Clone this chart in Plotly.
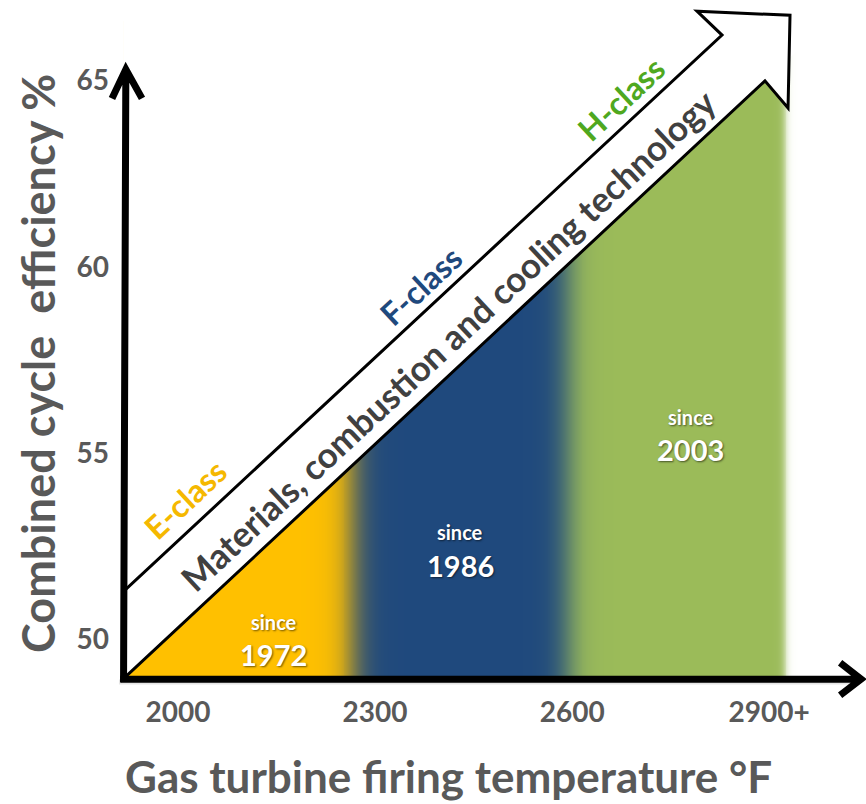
import numpy as np
import plotly.graph_objects as go

# Axis scales: gas turbine firing temperature (°F) and combined cycle efficiency (%)
temp_ticks = [2000, 2300, 2600, 2900]
temp_tick_text = ["2000", "2300", "2600", "2900+"]
eff_ticks = [50, 55, 60, 65]
temp_range = [1728.9, 3047.4]
eff_range = [45.59, 67.16]

# Technology frontier: efficiency reached as firing temperature rises
frontier_temp = [1916.2, 2893.6]
frontier_eff = [48.94, 64.99]

# Turbine classes
class_names = ["E-class", "F-class", "H-class"]
class_since = ["1972", "1986", "2003"]
class_start = [1916.2, 2264.8, 2593.7]
class_end = [2264.8, 2593.7, 2924.1]
class_colors = ["#FFC000", "#1F497D", "#9BBB59"]
class_name_colors = ["#F5B800", "#1F497D", "#4FA81F"]
class_blend = [12.8, 12.5, 3.5]

# Label anchors (temperature, efficiency)
name_temp = [2011.3, 2369.1, 2674.4]
name_eff = [53.78, 59.50, 64.51]
since_temp = [2145.5, 2429.5, 2780.2]
since_eff = [50.47, 52.89, 55.98]
year_eff = [49.61, 52.00, 55.11]

band_text = "Materials, combustion and cooling technology"
band_temp, band_eff = 2410.0, 58.05
band_offset = 2.34  # width of the technology arrow, in efficiency points

FONT = "Lato"
GREY = "#595959"

fig = go.Figure()

# Coloured area under the frontier, softly blended from one class to the next
edges = np.linspace(class_start[0], 2950, 700)
centres = 0.5 * (edges[:-1] + edges[1:])
level = np.zeros_like(centres)
for b, s in zip(class_end, class_blend):
    level += 1.0 / (1.0 + np.exp(-(centres - b) / s))
fig.add_trace(go.Heatmap(
    x=edges, y=[frontier_eff[0], 66.6], z=[level],
    zmin=0, zmax=3,
    colorscale=[[0, class_colors[0]], [1 / 3, class_colors[1]],
                [2 / 3, class_colors[2]], [1, "#FFFFFF"]],
    showscale=False, hoverinfo="skip",
))

slope = (frontier_eff[1] - frontier_eff[0]) / (frontier_temp[1] - frontier_temp[0])
x0, y0 = frontier_temp[0], frontier_eff[0]
x_far = 2960
shapes = []
# white cover above the frontier line
shapes.append(dict(
    type="path", xref="x", yref="y", layer="above",
    path=f"M {x0},{y0} L {x_far},{y0 + slope * (x_far - x0)} L {x_far},67.2 L {x0},67.2 Z",
    fillcolor="white", line=dict(width=0),
))

# technology arrow along the frontier
nx, ny = frontier_temp[1], frontier_eff[1]
ux, uy = 2828.2, 66.22
head = [(2928.7, 64.26), (2931.7, 66.75), (2790.1, 66.86)]
pts = [(x0, y0), (nx, ny)] + head + [(ux, uy), (x0, y0 + band_offset)]
arrow_path = "M " + " L ".join(f"{px},{py}" for px, py in pts) + " Z"
shapes.append(dict(
    type="path", xref="x", yref="y", layer="above", path=arrow_path,
    fillcolor="white", line=dict(color="black", width=3),
))

# axis arrows
shapes.append(dict(
    type="line", xref="x", yref="y", layer="above",
    x0=1910, y0=48.86, x1=3030, y1=48.86,
    line=dict(color="rgba(0,0,0,0.10)", width=5),
))
shapes.append(dict(
    type="path", xref="x", yref="y", layer="above",
    path="M 1917,48.86 L 1920.5,65.30 M 1899.4,64.52 L 1920.5,65.30 L 1945.1,64.52",
    fillcolor="rgba(0,0,0,0)", line=dict(color="black", width=7),
))
shapes.append(dict(
    type="path", xref="x", yref="y", layer="above",
    path="M 1912,48.94 L 3040,48.94 M 3008,49.38 L 3040,48.94 L 3008,48.51",
    fillcolor="rgba(0,0,0,0)", line=dict(color="black", width=7),
))

annotations = []
for name, col, tx, ty in zip(class_names, class_name_colors, name_temp, name_eff):
    annotations.append(dict(
        x=tx, y=ty, xref="x", yref="y", text=name, showarrow=False,
        textangle=-43, font=dict(family=FONT, size=32, color=col, weight="bold"),
    ))
annotations.append(dict(
    x=band_temp, y=band_eff, xref="x", yref="y", text=band_text, showarrow=False,
    textangle=-43, font=dict(family=FONT, size=35, color="#404040", weight="bold"),
))
shadow = "1px 1px 2px rgba(0,0,0,0.55)"
for yr, tx, sy, yy in zip(class_since, since_temp, since_eff, year_eff):
    annotations.append(dict(
        x=tx, y=sy, xref="x", yref="y", text="since", showarrow=False,
        font=dict(family=FONT, size=20, color="white", weight="bold", shadow=shadow),
    ))
    annotations.append(dict(
        x=tx, y=yy, xref="x", yref="y", text=yr, showarrow=False,
        font=dict(family=FONT, size=29, color="white", weight="bold", shadow=shadow),
    ))
annotations.append(dict(
    x=449 / 866, y=1 - 776 / 804, xref="paper", yref="paper",
    xanchor="center", yanchor="middle",
    text="Gas turbine firing temperature °F", showarrow=False,
    font=dict(family=FONT, size=44, color=GREY, weight="bold"),
))
annotations.append(dict(
    x=38 / 866, y=1 - 364 / 804, xref="paper", yref="paper",
    xanchor="center", yanchor="middle",
    text="Combined cycle  efficiency %", showarrow=False, textangle=-90,
    font=dict(family=FONT, size=45, color=GREY, weight="bold"),
))

fig.update_layout(
    width=866, height=804,
    margin=dict(l=0, r=0, t=0, b=0),
    paper_bgcolor="white", plot_bgcolor="white",
    showlegend=False,
    shapes=shapes, annotations=annotations,
    xaxis=dict(
        range=temp_range, domain=[0, 1], anchor="free", position=1 - 679 / 804,
        tickvals=temp_ticks, ticktext=temp_tick_text, ticks="", ticklabelstandoff=14,
        showgrid=False, zeroline=False, showline=False, fixedrange=True,
        tickfont=dict(family=FONT, size=28, color=GREY, weight="bold"),
    ),
    yaxis=dict(
        range=eff_range, domain=[0, 1], anchor="free", position=123 / 866,
        tickvals=eff_ticks, ticks="", ticklabelstandoff=14,
        showgrid=False, zeroline=False, showline=False, fixedrange=True,
        tickfont=dict(family=FONT, size=28, color=GREY, weight="bold"),
    ),
)

fig.write_html("out.html")
